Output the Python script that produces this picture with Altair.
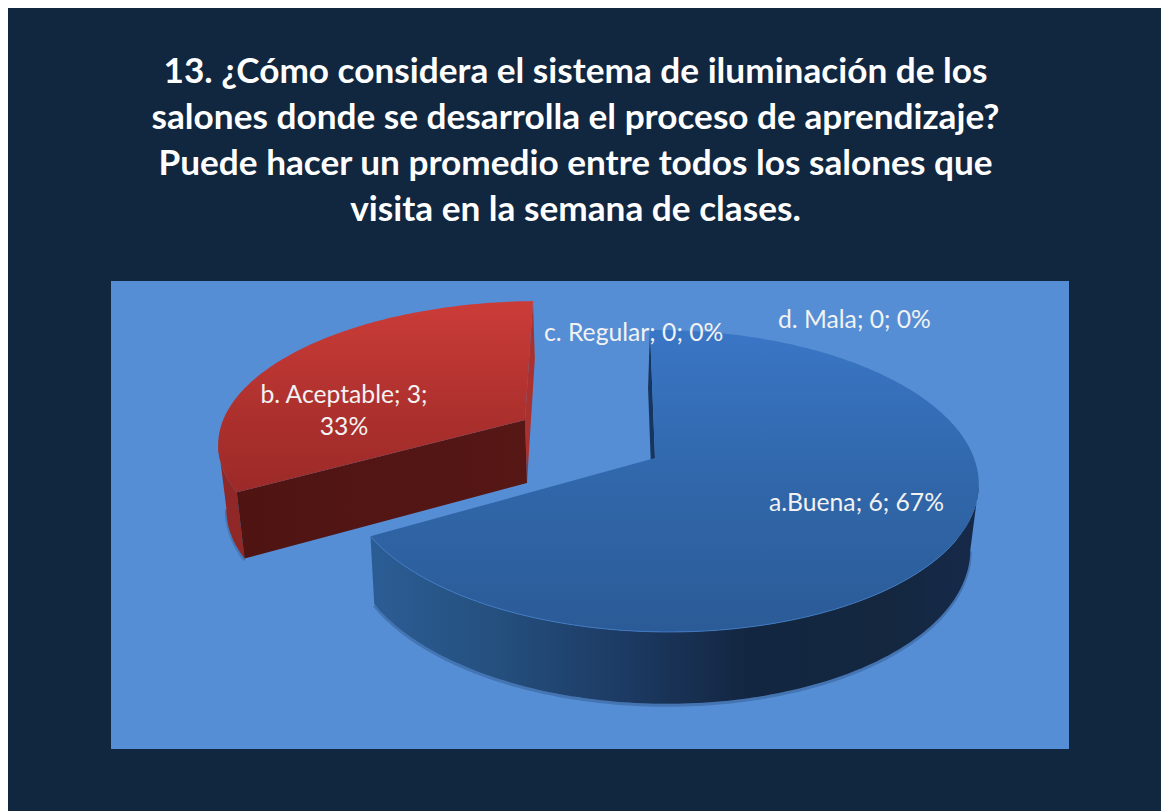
import numpy as np
import pandas as pd
import altair as alt

categories = ["a.Buena", "b. Aceptable", "c. Regular", "d. Mala"]
values = [6, 3, 0, 0]
title_lines = [
    "13. ¿Cómo considera el sistema de iluminación de los",
    "salones donde se desarrolla el proceso de aprendizaje?",
    "Puede hacer un promedio entre todos los salones que",
    "visita en la semana de clases.",
]
total = sum(values)
sweep = [v / total * 360 for v in values]

# Projection settings for the two visible slices
BLUE = dict(ax=655, ay=458, R=312.6, K=147.5, c=0.152, d=0.02, s=5.8, hx=-2, h0=64)
RED = dict(ax=525, ay=420, R=310, K=137, c=0.152, d=0.027, s=-9.2, hx=2, h0=63)
KX, KY = 0.98, 1.045


def rim(a_deg, g):
    a = np.radians(a_deg)
    X, Z = np.sin(a), -np.cos(a)
    p = 1 / (1 - g["c"] * Z - g["d"] * X)
    return g["ax"] + (g["R"] * X + g["s"] * Z) * p, g["ay"] + g["K"] * Z * p


def base(x, y, g):
    return g["ax"] + (x - g["ax"]) * KX + g["hx"], g["ay"] + (y - g["ay"]) * KY + g["h0"]


def frame(xs, ys):
    return pd.DataFrame({"x": xs, "y": ys, "i": range(len(xs))})


X_SCALE = alt.Scale(domain=[8, 1161], range=[0, 1153], nice=False, zero=False)
Y_SCALE = alt.Scale(domain=[8, 811], range=[0, 803], nice=False, zero=False)


def shape(xs, ys, fill):
    return alt.Chart(frame(xs, ys)).mark_line(
        fill=fill, strokeWidth=0, stroke="transparent", interpolate="linear-closed"
    ).encode(
        x=alt.X("x:Q", scale=X_SCALE, axis=None),
        y=alt.Y("y:Q", scale=Y_SCALE, axis=None),
        order="i:Q",
    )


def curve(xs, ys, color, width, opacity=1.0):
    return alt.Chart(frame(xs, ys)).mark_line(
        stroke=color, strokeWidth=width, opacity=opacity
    ).encode(
        x=alt.X("x:Q", scale=X_SCALE, axis=None),
        y=alt.Y("y:Q", scale=Y_SCALE, axis=None),
        order="i:Q",
    )


def vgrad(stops):
    return alt.LinearGradient(
        gradient="linear", x1=0, x2=0, y1=0, y2=1,
        stops=[alt.GradientStop(offset=o, color=c) for o, c in stops],
    )


def hgrad(stops):
    return alt.LinearGradient(
        gradient="linear", x1=0, x2=1, y1=0, y2=0,
        stops=[alt.GradientStop(offset=o, color=c) for o, c in stops],
    )


layers = []
layers.append(
    alt.Chart(pd.DataFrame({"k": [0]})).mark_rect(color="#558ed5").encode(
        x=alt.value(103), x2=alt.value(1061), y=alt.value(273), y2=alt.value(741)
    )
)

# Blue slice: runs clockwise from the top
a_blue = np.linspace(0, sweep[0], 241)
bx, by = rim(a_blue, BLUE)
bbx, bby = base(bx, by, BLUE)
i_right = int(np.argmax(bx))
wx = np.concatenate([bx[i_right:], bbx[i_right:][::-1]])
wy = np.concatenate([by[i_right:], bby[i_right:][::-1]])
layers.append(curve(bbx[i_right:], bby[i_right:] + 1.5, "#1f3a63", 3, 0.3))
layers.append(shape(wx, wy, hgrad([
    (0, "#2b5d95"), (0.2, "#25507f"), (0.42, "#1c3a63"),
    (0.62, "#132641"), (0.85, "#14273f"), (1, "#16294a")])))
# blue radial side at the top edge
tx, ty = bx[0], by[0]
ax_, ay_ = BLUE["ax"], BLUE["ay"]
t2x, t2y = base(tx, ty, BLUE)
a2x, a2y = base(ax_, ay_, BLUE)
layers.append(shape([tx, ax_, a2x, t2x], [ty, ay_, a2y, t2y], "#17365f"))
layers.append(shape(
    np.concatenate([[ax_], bx]), np.concatenate([[ay_], by]),
    vgrad([(0, "#3a76c6"), (0.55, "#3066a8"), (1, "#2b5b97")]),
))
layers.append(curve(bx[i_right + 20:], by[i_right + 20:], "#4a86d0", 1, 0.7))

# Red slice follows on
a_red = np.linspace(sweep[0], sweep[0] + sweep[1], 121)
rx, ry = rim(a_red, RED)
rbx, rby = base(rx, ry, RED)
i_left = int(np.argmin(rx))
layers.append(curve(rbx[: i_left + 1], rby[: i_left + 1] + 1.5, "#1f3a63", 3, 0.25))
# outer wall
ox = np.concatenate([rx[: i_left + 1], rbx[: i_left + 1][::-1]])
oy = np.concatenate([ry[: i_left + 1], rby[: i_left + 1][::-1]])
layers.append(shape(ox, oy, "#8f2826"))
# right-hand radial side
rax, ray = RED["ax"], RED["ay"]
ra2x, ra2y = base(rax, ray, RED)
rtx, rty = rx[-1], ry[-1]
rt2x, rt2y = base(rtx, rty, RED)
layers.append(shape([rtx, rt2x, ra2x, rax], [rty, rt2y, ra2y, ray], "#a93230"))
# front radial side
r0x, r0y = rx[0], ry[0]
r02x, r02y = base(r0x, r0y, RED)
layers.append(shape([r0x, r02x, ra2x, rax], [r0y, r02y, ra2y, ray],
                    hgrad([(0, "#4f1412"), (1, "#561715")])))
# top
layers.append(shape(
    np.concatenate([[rax], rx]), np.concatenate([[ray], ry]),
    vgrad([(0, "#cb3c38"), (0.6, "#ac302d"), (1, "#9c2a28")]),
))


def label(text, x, y, align="left"):
    return alt.Chart(pd.DataFrame({"k": [0]})).mark_text(
        text=text, font="Lato", fontSize=24.7, color="#f2f2f2", align=align,
        baseline="alphabetic",
    ).encode(x=alt.value(x - 8), y=alt.value(y - 8))


def pct(v):
    return f"{round(v / total * 100)}%"


layers.append(label(f"{categories[1]}; {values[1]};", 344, 403, "center"))
layers.append(label(pct(values[1]), 344, 435, "center"))
layers.append(label(f"{categories[2]}; {values[2]}; {pct(values[2])}", 544, 341))
layers.append(label(f"{categories[3]}; {values[3]}; {pct(values[3])}", 778, 328))
layers.append(label(f"{categories[0]}; {values[0]}; {pct(values[0])}", 769, 511))

for n, line in enumerate(title_lines):
    layers.append(
        alt.Chart(pd.DataFrame({"k": [0]})).mark_text(
            text=line, font="Lato", fontSize=35.2, fontWeight="bold", color="white",
            align="center", baseline="alphabetic",
        ).encode(x=alt.value(567.5), y=alt.value(75 + 46 * n))
    )

chart = (
    alt.layer(*layers)
    .properties(width=1153, height=803, background="#11263f", padding=0,
                autosize=alt.AutoSizeParams(type="none"))
    .configure_view(stroke=None)
)
chart.save("out.html", embed_options={"renderer": "svg", "actions": False})
